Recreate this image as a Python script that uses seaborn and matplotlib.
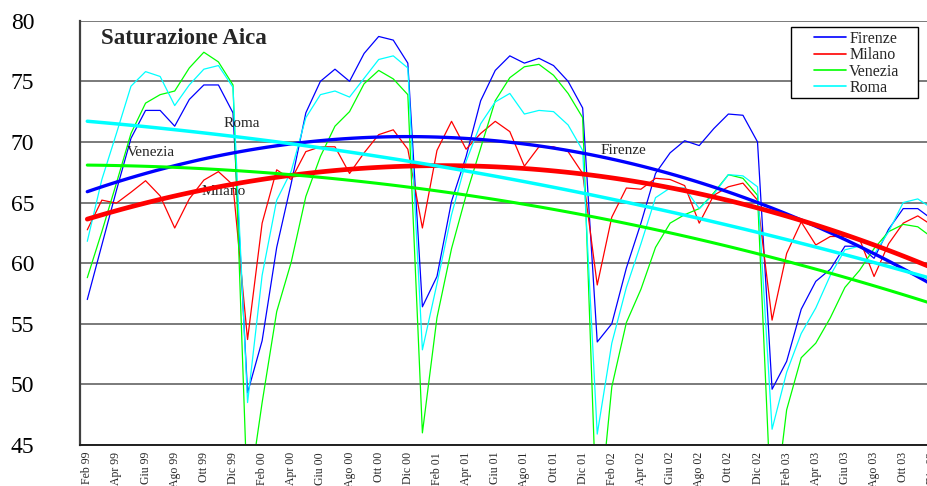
import numpy as np
import pandas as pd
import matplotlib
matplotlib.use("Agg")
import matplotlib.pyplot as plt
from matplotlib.lines import Line2D
from matplotlib.patches import Rectangle
import seaborn as sns

# Mesi (Feb 99 - Dic 03)
mesi = ["Feb 99", "Mar 99", "Apr 99", "Mag 99", "Giu 99", "Lug 99", "Ago 99", "Set 99", "Ott 99", "Nov 99", "Dic 99",
        "Gen 00", "Feb 00", "Mar 00", "Apr 00", "Mag 00", "Giu 00", "Lug 00", "Ago 00", "Set 00", "Ott 00", "Nov 00", "Dic 00",
        "Gen 01", "Feb 01", "Mar 01", "Apr 01", "Mag 01", "Giu 01", "Lug 01", "Ago 01", "Set 01", "Ott 01", "Nov 01", "Dic 01",
        "Gen 02", "Feb 02", "Mar 02", "Apr 02", "Mag 02", "Giu 02", "Lug 02", "Ago 02", "Set 02", "Ott 02", "Nov 02", "Dic 02",
        "Gen 03", "Feb 03", "Mar 03", "Apr 03", "Mag 03", "Giu 03", "Lug 03", "Ago 03", "Set 03", "Ott 03", "Nov 03", "Dic 03"]

firenze = [57.0, 61.5, 66.0, 70.3, 72.6, 72.6, 71.3, 73.5, 74.7, 74.7, 72.4,
           49.3, 53.6, 61.3, 66.6, 72.4, 75.0, 76.0, 75.0, 77.3, 78.7, 78.4, 76.5,
           56.4, 58.9, 65.1, 68.8, 73.4, 75.9, 77.1, 76.5, 76.9, 76.3, 75.0, 72.8,
           53.5, 55.0, 59.6, 63.3, 67.4, 69.1, 70.1, 69.7, 71.1, 72.3, 72.2, 70.0,
           49.6, 51.9, 56.2, 58.5, 59.5, 61.4, 61.4, 60.4, 62.8, 64.5, 64.5, 63.6]
milano = [62.75, 65.2, 64.95, 65.85, 66.8, 65.55, 62.9, 65.3, 66.85, 67.55, 66.45,
          53.7, 63.3, 67.7, 66.9, 69.2, 69.6, 69.6, 67.4, 69.1, 70.6, 71.0, 69.4,
          62.9, 69.3, 71.7, 69.4, 70.7, 71.7, 70.85, 68.0, 69.6, 69.6, 69.2, 67.4,
          58.2, 63.8, 66.2, 66.1, 67.0, 66.9, 66.4, 63.3, 65.6, 66.3, 66.6, 65.2,
          55.3, 60.8, 63.4, 61.5, 62.2, 62.2, 62.0, 58.9, 61.6, 63.3, 63.9, 63.1]
venezia = [58.8, 62.6, 66.6, 70.7, 73.2, 73.9, 74.2, 76.1, 77.4, 76.6, 74.7,
           40.2, 48.5, 56.0, 60.1, 65.5, 68.8, 71.3, 72.5, 74.8, 75.9, 75.2, 73.9,
           46.0, 55.5, 61.2, 65.6, 69.5, 73.4, 75.3, 76.2, 76.4, 75.5, 74.0, 72.0,
           37.5, 49.8, 55.1, 57.85, 61.3, 63.3, 64.0, 64.5, 65.8, 67.3, 67.0, 65.6,
           38.0, 47.9, 52.2, 53.4, 55.5, 58.0, 59.4, 61.2, 62.6, 63.2, 63.0, 62.1]
roma = [61.8, 66.9, 70.7, 74.6, 75.8, 75.4, 73.0, 74.7, 76.0, 76.3, 74.5,
        48.5, 59.0, 65.2, 67.6, 72.0, 73.9, 74.2, 73.7, 75.25, 76.8, 77.1, 76.1,
        52.85, 58.3, 64.0, 68.4, 71.5, 73.3, 74.0, 72.3, 72.6, 72.5, 71.4, 69.3,
        45.9, 53.4, 58.0, 61.6, 65.4, 66.2, 66.2, 64.5, 65.7, 67.3, 67.2, 66.3,
        46.3, 51.0, 54.2, 56.3, 59.0, 61.1, 61.4, 60.7, 62.6, 65.0, 65.3, 64.5]

citta = ["Firenze", "Milano", "Venezia", "Roma"]
colori = {"Firenze": "#0000ff", "Milano": "#ff0000", "Venezia": "#00ff00", "Roma": "#00ffff"}
spessori_trend = {"Firenze": 2.4, "Milano": 3.4, "Venezia": 2.2, "Roma": 2.5}

df = pd.DataFrame({"mese": mesi, "idx": np.arange(len(mesi)),
                   "Firenze": firenze, "Milano": milano, "Venezia": venezia, "Roma": roma})
long_df = df.melt(id_vars=["mese", "idx"], value_vars=citta, var_name="citta", value_name="sat")

sns.set_style("white")
plt.rcParams["font.family"] = ["Liberation Serif", "DejaVu Serif"]

W, H = 928, 486
n = len(mesi)
px_cat = 14.57
fig = plt.figure(figsize=(W / 100, H / 100), dpi=100)
ax = fig.add_axes([80 / W, 41 / H, n * px_cat / W, 424.3 / H])

sns.lineplot(data=long_df, x="idx", y="sat", hue="citta", hue_order=citta, palette=colori,
             linewidth=0.9, ax=ax, legend=False)

# trendline polinomiali (ordine 2)
for c in citta:
    sns.regplot(data=df, x="idx", y=c, order=2, scatter=False, ci=None, truncate=True,
                color=colori[c], line_kws={"linewidth": spessori_trend[c], "zorder": 5}, ax=ax)

ax.set_xlim(-0.5, n - 0.5)
ax.set_ylim(45, 80)
ax.set_yticks(range(45, 81, 5))
ax.yaxis.grid(True, color="#707070", linewidth=1.3)
ax.xaxis.grid(False)
ax.set_axisbelow(True)
ax.set_xlabel("")
ax.set_ylabel("")
for s in ["top", "right"]:
    ax.spines[s].set_visible(False)
ax.spines["left"].set_color("#404040")
ax.spines["left"].set_linewidth(1.6)
ax.spines["bottom"].set_color("#202020")
ax.spines["bottom"].set_linewidth(1.4)

ax.tick_params(axis="y", direction="out", length=6, width=1, pad=27, labelsize=17, colors="black")
ax.set_xticks(np.arange(-0.5, n, 1))
ax.set_xticklabels([])
ax.tick_params(axis="x", which="major", direction="out", length=4, width=1)
ax.set_xticks(np.arange(0, n, 2), minor=True)
ax.set_xticklabels(mesi[::2], minor=True, rotation=90, fontsize=8.5)
ax.tick_params(axis="x", which="minor", length=0, pad=5)

# etichette trendline
ax.text(9.33, 71.54, "Roma", fontsize=11, va="center")
ax.text(2.7, 69.09, "Venezia", fontsize=11, va="center")
ax.text(7.85, 65.9, "Milano", fontsize=11, va="center")
ax.text(35.26, 69.26, "Firenze", fontsize=11, va="center")

fig.text(101 / W, 1 - 39 / H, "Saturazione Aica", fontsize=16.5, fontweight="bold", va="center", ha="left")

# legenda
fig.patches.append(Rectangle((791 / W, 1 - 98 / H), 127 / W, 71 / H, transform=fig.transFigure,
                             facecolor="white", edgecolor="black", linewidth=1.0, zorder=10))
handles = [Line2D([0], [0], color=colori[c], linewidth=1.2) for c in citta]
leg = fig.legend(handles, citta, loc="upper left", bbox_to_anchor=(806 / W, 1 - 23 / H),
                 frameon=False, fontsize=11.5, handlelength=2.0, handletextpad=0.2,
                 borderpad=0, labelspacing=0.02)
leg.set_zorder(11)

fig.savefig("out.png", dpi=100)
